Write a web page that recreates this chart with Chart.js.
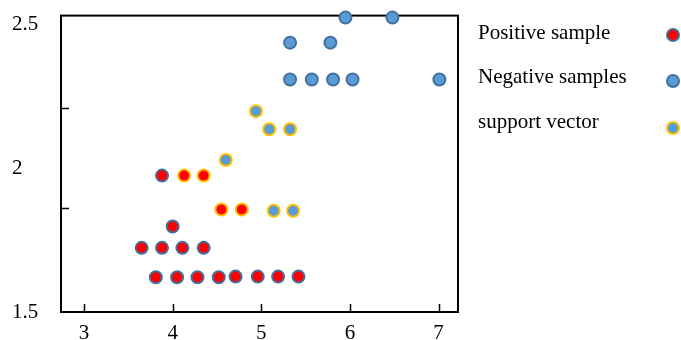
<!DOCTYPE html>
<html>
<head>
<meta charset="utf-8">
<script src="https://cdn.jsdelivr.net/npm/chart.js@4/dist/chart.umd.min.js"></script>
<style>
    html, body { margin: 0; padding: 0; background: #fff; }
    #wrap { position: relative; width: 681px; height: 340px; overflow: hidden; }
    #legend { position: absolute; left: 0; top: 0; width: 681px; height: 340px; pointer-events: none; }
    .item { position: absolute; left: 478px; font: 21px "Liberation Serif", "Times New Roman", serif; line-height: 21px; color: #000; white-space: nowrap; }
    .dot { position: absolute; box-sizing: border-box; width: 14px; height: 14px; border-radius: 50%; border: 2px solid; }
</style>
</head>
<body>
<div id="wrap">
    <canvas id="svmChart" width="681" height="340"></canvas>
    <div id="legend"></div>
</div>
<script>
// Sample points: [x, y]
const positiveSamples = [
    [3.81, 1.621], [4.05, 1.621], [4.28, 1.621], [4.52, 1.621],
    [4.71, 1.623], [4.96, 1.623], [5.19, 1.623], [5.42, 1.623],
    [3.65, 1.723], [3.88, 1.723], [4.11, 1.723], [4.35, 1.723],
    [4.00, 1.797],
    [3.88, 1.974]
];
const negativeSamples = [
    [5.95, 2.523], [6.48, 2.523],
    [5.325, 2.436], [5.78, 2.436],
    [5.325, 2.308], [5.57, 2.308], [5.81, 2.308], [6.03, 2.308], [7.01, 2.308]
];
const supportPositive = [
    [4.13, 1.974], [4.35, 1.974],
    [4.55, 1.856], [4.78, 1.856]
];
const supportNegative = [
    [4.60, 2.028], [4.94, 2.198],
    [5.09, 2.135], [5.325, 2.135],
    [5.14, 1.852], [5.36, 1.852]
];

const seriesLabels = ['Positive sample', 'Negative samples', 'support vector'];
const xTicks = [3, 4, 5, 6, 7];
const yTicks = [1.5, 2, 2.5];
const yMarks = [1.862, 2.209];

const RED = '#ff0000';
const BLUE = '#5b9bd5';
const DARK_BLUE = '#41719c';
const GOLD = '#ffc000';

const toPoints = arr => arr.map(p => ({ x: p[0], y: p[1] }));

function scatterSet(label, data, fill, border) {
    return {
        label: label,
        data: toPoints(data),
        backgroundColor: fill,
        borderColor: border,
        borderWidth: 2,
        pointRadius: 6,
        pointHoverRadius: 6,
        clip: false
    };
}

// Box round the plot area plus the small inward tick marks
const framePlugin = {
    id: 'frame',
    beforeDatasetsDraw(chart) {
        const { ctx, chartArea: a, scales: { x, y } } = chart;
        ctx.save();
        ctx.strokeStyle = '#000';
        ctx.lineWidth = 2;
        ctx.strokeRect(a.left, a.top, a.right - a.left, a.bottom - a.top);
        ctx.lineWidth = 1.5;
        ctx.beginPath();
        xTicks.forEach(v => {
            const px = Math.round(x.getPixelForValue(v)) + 0.5;
            ctx.moveTo(px, a.bottom);
            ctx.lineTo(px, a.bottom - 8);
        });
        yMarks.forEach(v => {
            const py = Math.round(y.getPixelForValue(v)) + 0.5;
            ctx.moveTo(a.left, py);
            ctx.lineTo(a.left + 8, py);
        });
        ctx.stroke();
        ctx.restore();
    }
};

const tickFont = { family: '"Liberation Serif", "Times New Roman", serif', size: 21 };

new Chart(document.getElementById('svmChart'), {
    type: 'scatter',
    data: {
        datasets: [
            scatterSet(seriesLabels[0], positiveSamples, RED, DARK_BLUE),
            scatterSet(seriesLabels[1], negativeSamples, BLUE, DARK_BLUE),
            scatterSet(seriesLabels[2], supportPositive, RED, GOLD),
            scatterSet(seriesLabels[2], supportNegative, BLUE, GOLD)
        ]
    },
    options: {
        responsive: false,
        animation: false,
        events: [],
        layout: {
            padding: { top: 15, left: 12, right: 223, bottom: 0 }
        },
        scales: {
            x: {
                type: 'linear',
                min: 2.74,
                max: 7.22,
                grid: { display: false, drawTicks: false },
                border: { display: false },
                afterBuildTicks: s => { s.ticks = xTicks.map(v => ({ value: v })); },
                afterFit: s => { s.height = 28; },
                ticks: {
                    color: '#000',
                    font: tickFont,
                    padding: 9,
                    maxRotation: 0,
                    callback: v => String(v)
                }
            },
            y: {
                type: 'linear',
                min: 1.5,
                max: 2.53,
                grid: { display: false, drawTicks: false },
                border: { display: false },
                afterBuildTicks: s => { s.ticks = yTicks.map(v => ({ value: v })); },
                afterFit: s => { s.width = 49; },
                ticks: {
                    color: '#000',
                    font: tickFont,
                    crossAlign: 'far',
                    callback: v => String(v)
                }
            }
        },
        plugins: {
            legend: { display: false },
            tooltip: { enabled: false }
        }
    },
    plugins: [framePlugin]
});

// Legend on the right: text column with markers at the window edge
const legendRows = [
    { text: seriesLabels[0], top: 22, dotY: 34.7, fill: RED, border: DARK_BLUE },
    { text: seriesLabels[1], top: 66, dotY: 81, fill: BLUE, border: DARK_BLUE },
    { text: seriesLabels[2], top: 111, dotY: 128.3, fill: BLUE, border: GOLD }
];
const legend = document.getElementById('legend');
legendRows.forEach(r => {
    const t = document.createElement('div');
    t.className = 'item';
    t.style.top = r.top + 'px';
    t.textContent = r.text;
    legend.appendChild(t);
    const d = document.createElement('div');
    d.className = 'dot';
    d.style.left = (673.3 - 7) + 'px';
    d.style.top = (r.dotY - 7) + 'px';
    d.style.background = r.fill;
    d.style.borderColor = r.border;
    legend.appendChild(d);
});
</script>
</body>
</html>
